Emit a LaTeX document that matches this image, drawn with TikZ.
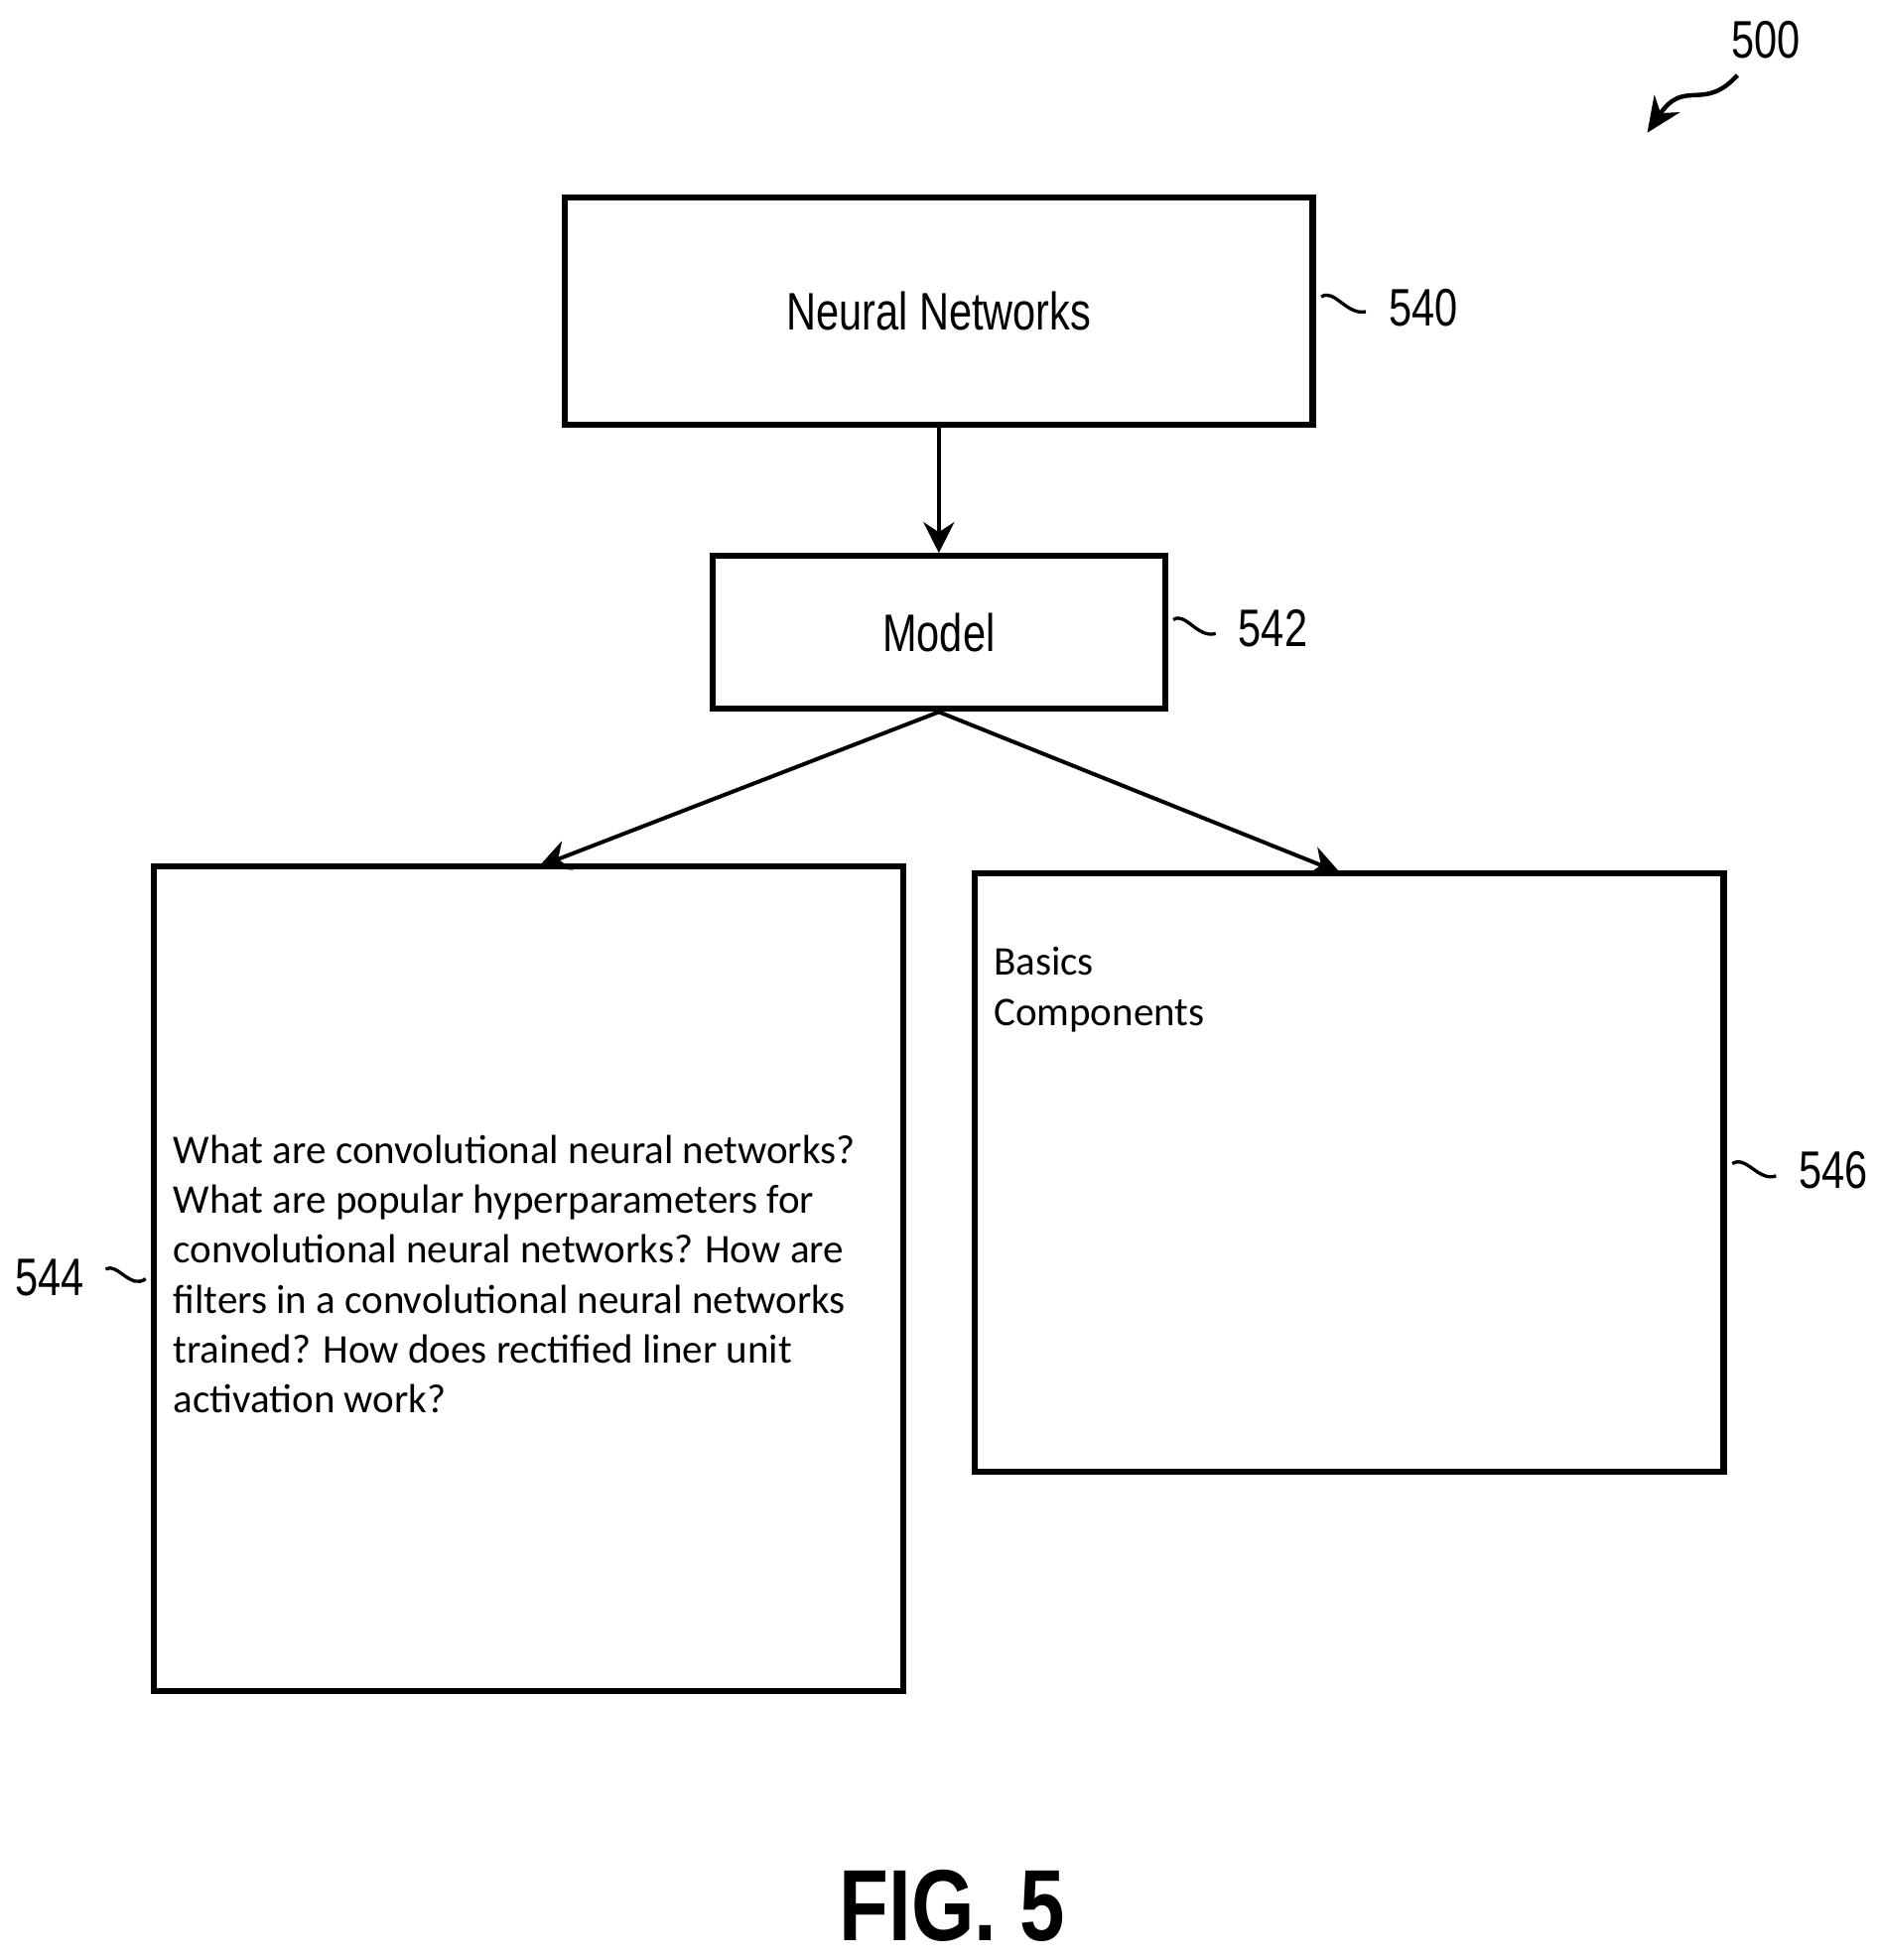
\documentclass[tikz,border=0pt]{standalone}
\usepackage{fontspec}
\setmainfont{Carlito}
\newfontfamily\labelfont{Liberation Sans}
\usetikzlibrary{positioning,arrows.meta}

\tikzset{
  box/.style={draw,line width=2.8pt,inner sep=0pt},
  title/.style={font=\labelfont\fontsize{24}{28}\selectfont,xscale=0.78},
  ref/.style={font=\labelfont\fontsize{24}{28}\selectfont,xscale=0.78},
  body/.style={font=\fontsize{18.5}{22.7}\selectfont,align=left,anchor=north west,inner sep=0pt},
  link/.style={line width=1.8pt,-{Stealth[length=14pt,width=14pt]}},
  lead/.style={line width=1.5pt,shorten <=3pt,shorten >=8pt}
}

\begin{document}
\begin{tikzpicture}[x=0.02cm,y=-0.02cm]
\useasboundingbox (0,0) rectangle (1500,1565);
% boxes
\node [box,minimum width=597*0.02cm,minimum height=181*0.02cm] (nn) at (749.5,248.5) {};
\node [title] at (nn.center) {Neural Networks};
\node [box,minimum width=361*0.02cm,minimum height=122*0.02cm] (model) at (749.5,505) {};
\node [title] at (model.center) {Model};
\node [box,minimum width=598*0.02cm,minimum height=658*0.02cm] (q) at (422,1021) {};
\node [box,minimum width=598*0.02cm,minimum height=478*0.02cm] (basic) at (1077,936) {};
\node [body] (qtext) at (138,906) {What are convolutional neural networks?\\What are popular hyperparameters for\\convolutional neural networks? How are\\filters in a convolutional neural networks\\trained? How does rectified liner unit\\activation work?};
\node [body] (btext) at (793,756) {Basics\\Components};
% connectors
\draw [link] (nn.south) -- (model.north);
\coordinate (split) at (model.south);
\coordinate (qin) at (430,692);
\coordinate (bin) at (1070,697);
\draw [link] (split) -- (qin);
\draw [link] (split) -- (bin);
% reference numerals
\node [ref,anchor=west] (r540) at (1104,246) {540};
\node [ref,anchor=west] (r542) at (984,502) {542};
\node [ref,anchor=west] (r546) at (1431,934) {546};
\node [ref,anchor=east] (r544) at (72,1020) {544};
\draw [lead] (nn.east |- 0,240) .. controls (1065,230) and (1075,252) .. (r540.west);
\draw [lead] (model.east |- 0,498) .. controls (946,488) and (956,510) .. (r542.west);
\draw [lead] (basic.east |- 0,932) .. controls (1394,922) and (1404,944) .. (r546.west);
\draw [lead,shorten <=8pt,shorten >=3pt] (r544.east) .. controls (94,1008) and (104,1030) .. (q.west |- 0,1018);
% figure number
\node [ref] (r500) at (1410,32) {500};
\coordinate (tip500) at (1315,106);
\draw [line width=2pt,-{Stealth[length=16pt,width=14pt]}] (1387,60) .. controls (1360,90) and (1345,62) .. (tip500);
\node [font=\labelfont\bfseries\fontsize{46}{52}\selectfont,xscale=0.8] (fig) at (760,1522) {FIG. 5};
\end{tikzpicture}
\end{document}
